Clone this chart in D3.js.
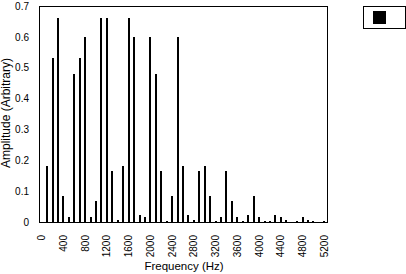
<!DOCTYPE html>
<html>
<head>
<meta charset="utf-8">
<script src="https://cdnjs.cloudflare.com/ajax/libs/d3/7.8.5/d3.min.js"></script>
<style>
  body { margin: 0; background: #fff; }
  text { font-family: "Liberation Sans", Arial, sans-serif; fill: #000; }
</style>
</head>
<body>
<svg width="406" height="274"></svg>
<script>
// Frequency bins (Hz)
const frequencies = [
  0, 100, 200, 300, 400, 500, 600, 700, 800, 900,
  1000, 1100, 1200, 1300, 1400, 1500, 1600, 1700, 1800, 1900,
  2000, 2100, 2200, 2300, 2400, 2500, 2600, 2700, 2800, 2900,
  3000, 3100, 3200, 3300, 3400, 3500, 3600, 3700, 3800, 3900,
  4000, 4100, 4200, 4300, 4400, 4500, 4600, 4700, 4800, 4900,
  5000, 5100, 5200
];

// Amplitude per bin
const amplitudes = [
  0, 0.18, 0.53, 0.66, 0.085, 0.017, 0.48, 0.53, 0.6, 0.017,
  0.068, 0.66, 0.66, 0.165, 0.006, 0.18, 0.66, 0.6, 0.023, 0.017,
  0.6, 0.48, 0.165, 0.004, 0.085, 0.6, 0.18, 0.023, 0.006, 0.165,
  0.18, 0.085, 0.004, 0.017, 0.165, 0.068, 0.017, 0.004, 0.023, 0.085,
  0.017, 0.004, 0.004, 0.023, 0.017, 0.006, 0, 0.004, 0.017, 0.006,
  0.004, 0, 0.004
];

const xTickLabels = [0, 400, 800, 1200, 1600, 2000, 2400, 2800, 3200, 3600, 4000, 4400, 4800, 5200];
const yTickLabels = [0, 0.1, 0.2, 0.3, 0.4, 0.5, 0.6, 0.7];
const seriesNames = [""];

const svg = d3.select("svg");
const plot = { left: 39, right: 327, top: 6, bottom: 222 };

const x = d3
  .scaleBand()
  .domain(frequencies)
  .range([plot.left, plot.right])
  .paddingInner(0.63)
  .paddingOuter(0.315);

const y = d3
  .scaleLinear()
  .domain([0, 0.7])
  .range([plot.bottom, plot.top]);

// Bars
svg
  .append("g")
  .attr("shape-rendering", "crispEdges")
  .selectAll("rect")
  .data(frequencies)
  .enter()
  .append("rect")
  .attr("x", function(d) { return Math.round(x(d)); })
  .attr("width", 2)
  .attr("y", function(d, i) { return y(amplitudes[i]); })
  .attr("height", function(d, i) { return plot.bottom - y(amplitudes[i]); })
  .attr("fill", "#000");

// Plot frame
svg
  .append("rect")
  .attr("x", plot.left + 0.5)
  .attr("y", plot.top + 0.5)
  .attr("width", plot.right - plot.left)
  .attr("height", plot.bottom - plot.top)
  .attr("fill", "none")
  .attr("stroke", "#000")
  .attr("stroke-width", 1);

// Y axis
const yAxis = svg
  .append("g")
  .attr("transform", "translate(" + plot.left + ",0)")
  .call(
    d3.axisLeft(y)
      .tickValues(yTickLabels)
      .tickSize(0)
      .tickPadding(10)
      .tickFormat(function(d) { return d === 0 ? "0" : d3.format(".1f")(d); })
  );
yAxis.select(".domain").remove();
yAxis.selectAll("text")
  .attr("font-size", "10px")
  .attr("font-family", "Liberation Sans, Arial, sans-serif");

// X axis
const xAxis = svg
  .append("g")
  .attr("transform", "translate(0," + plot.bottom + ")")
  .call(
    d3.axisBottom(x)
      .tickValues(xTickLabels)
      .tickSize(0)
  );
xAxis.select(".domain").remove();
xAxis.selectAll("text")
  .attr("font-size", "10px")
  .attr("font-family", "Liberation Sans, Arial, sans-serif")
  .attr("text-anchor", "end")
  .attr("dy", "0.35em")
  .attr("transform", "translate(0,13) rotate(-90)")
  .attr("x", 0)
  .attr("y", 0);

// Axis titles
svg
  .append("text")
  .attr("x", 184)
  .attr("y", 270)
  .attr("font-size", "11.5px")
  .attr("text-anchor", "middle")
  .text("Frequency (Hz)");

svg
  .append("text")
  .attr("transform", "translate(10,113) rotate(-90)")
  .attr("font-size", "12px")
  .attr("text-anchor", "middle")
  .text("Amplitude (Arbitrary)");

// Legend
const legend = svg.append("g").attr("transform", "translate(363,6)");
legend
  .append("rect")
  .attr("x", 0.5)
  .attr("y", 0.5)
  .attr("width", 42)
  .attr("height", 22)
  .attr("fill", "#fff")
  .attr("stroke", "#000");
legend
  .selectAll(".key")
  .data(seriesNames)
  .enter()
  .append("rect")
  .attr("class", "key")
  .attr("x", 10)
  .attr("y", 5)
  .attr("width", 13)
  .attr("height", 13)
  .attr("fill", "#000");
legend
  .selectAll(".name")
  .data(seriesNames)
  .enter()
  .append("text")
  .attr("class", "name")
  .attr("x", 27)
  .attr("y", 15)
  .attr("font-size", "10px")
  .text(function(d) { return d; });
</script>
</body>
</html>
